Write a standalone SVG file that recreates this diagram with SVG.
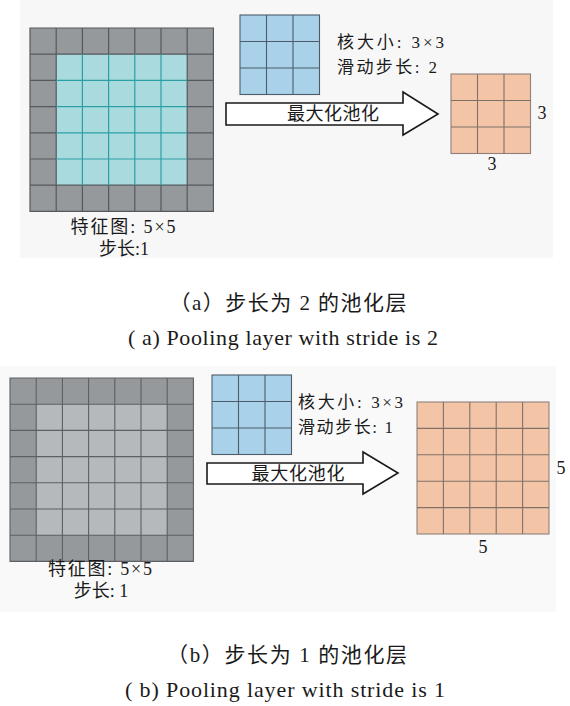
<svg xmlns="http://www.w3.org/2000/svg" width="570" height="706" viewBox="0 0 570 706">
  <style>
    .txt { fill: #1a1a1a; }
    .lbl { font-size: 18px; }
    .klbl { font-size: 17px; }
    .num { font-size: 18px; }
    .capZh { font-size: 21px; }
    .capEn { font-size: 22px; }
    .pad { fill: #96999c; }
    .gridDark { fill: none; stroke: #55595c; stroke-width: 1.2; }
    .gridTeal { fill: none; stroke: #2c9fa4; stroke-width: 1.2; }
    .gridLight { fill: none; stroke: #5c6063; stroke-width: 1.1; }
    .kernel { fill: #a9d1ea; stroke: #4d5d68; stroke-width: 1.1; }
    .kernelLines { fill: none; stroke: #4d5d68; stroke-width: 1.1; }
    .out { fill: #f4c4a7; stroke: #8e8179; stroke-width: 1.1; }
    .outLines { fill: none; stroke: #7d716a; stroke-width: 1.1; }
    .arrow { fill: #ffffff; stroke: #1a1a1a; stroke-width: 1.6; stroke-linejoin: miter; }
  </style>

  <g font-family="'Liberation Serif', 'DejaVu Serif', 'Noto Sans CJK SC', serif">
  <!-- panel backgrounds -->
  <rect x="20" y="0" width="533" height="258" fill="#f7f7f7"/>
  <rect x="0" y="366" width="556" height="246" fill="#f9f9f9"/>

  <!-- (a) stride 2 -->
  <g id="featureMapA">
    <rect class="pad" x="30" y="28" width="183.4" height="183.4"/>
    <rect x="56.2" y="54.2" width="131" height="131" fill="#a9dbde"/>
    <path class="gridDark" d="M30 28h183.4v183.4H30z M56.2 28v26.2 M82.4 28v26.2 M108.6 28v26.2 M134.8 28v26.2 M161 28v26.2 M187.2 28v26.2 M56.2 185.2v26.2 M82.4 185.2v26.2 M108.6 185.2v26.2 M134.8 185.2v26.2 M161 185.2v26.2 M187.2 185.2v26.2 M30 54.2h183.4 M30 185.2h183.4 M30 80.4h26.2 M30 106.6h26.2 M30 132.8h26.2 M30 159h26.2 M187.2 80.4h26.2 M187.2 106.6h26.2 M187.2 132.8h26.2 M187.2 159h26.2 M56.2 54.2v131 M187.2 54.2v131"/>
    <path class="gridTeal" d="M82.4 54.2v131 M108.6 54.2v131 M134.8 54.2v131 M161 54.2v131 M56.2 80.4h131 M56.2 106.6h131 M56.2 132.8h131 M56.2 159h131"/>
    <text class="txt lbl" x="123" y="233" text-anchor="middle" textLength="105" lengthAdjust="spacing">特征图: 5×5</text>
    <text class="txt lbl" x="124" y="255" text-anchor="middle">步长:1</text>
  </g>

  <g id="kernelA">
    <rect class="kernel" x="240" y="15" width="79.5" height="79.5"/>
    <path class="kernelLines" d="M266.5 15v79.5 M293 15v79.5 M240 41.5h79.5 M240 68h79.5"/>
    <text class="txt klbl" x="337" y="48" textLength="107" lengthAdjust="spacing">核大小: 3×3</text>
    <text class="txt klbl" x="337" y="73" textLength="100" lengthAdjust="spacing">滑动步长: 2</text>
  </g>

  <g id="outputA">
    <rect class="out" x="451" y="74" width="79.5" height="79.5"/>
    <path class="outLines" d="M477.5 74v79.5 M504 74v79.5 M451 100.5h79.5 M451 127h79.5"/>
    <text class="txt num" x="542" y="119" text-anchor="middle">3</text>
    <text class="txt num" x="492" y="170" text-anchor="middle">3</text>
  </g>

  <!-- (b) stride 1 -->
  <g id="featureMapB">
    <rect class="pad" x="10" y="378" width="183.4" height="183.4"/>
    <rect x="36.2" y="404.2" width="131" height="131" fill="#b5b9bc"/>
    <path class="gridLight" d="M10 378h183.4v183.4H10z M36.2 378v183.4 M62.4 378v183.4 M88.6 378v183.4 M114.8 378v183.4 M141 378v183.4 M167.2 378v183.4 M10 404.2h183.4 M10 430.4h183.4 M10 456.6h183.4 M10 482.8h183.4 M10 509h183.4 M10 535.2h183.4"/>
    <text class="txt lbl" x="100" y="575" text-anchor="middle" textLength="104" lengthAdjust="spacing">特征图: 5×5</text>
    <text class="txt lbl" x="101" y="597" text-anchor="middle">步长: 1</text>
  </g>

  <g id="kernelB">
    <rect class="kernel" x="212" y="375" width="79.5" height="79.5"/>
    <path class="kernelLines" d="M238.5 375v79.5 M265 375v79.5 M212 401.5h79.5 M212 428h79.5"/>
    <text class="txt klbl" x="298" y="408" textLength="105" lengthAdjust="spacing">核大小: 3×3</text>
    <text class="txt klbl" x="298" y="433" textLength="95" lengthAdjust="spacing">滑动步长: 1</text>
  </g>

  <g id="outputB">
    <rect class="out" x="417" y="402" width="132" height="132"/>
    <path class="outLines" d="M443.4 402v132 M469.8 402v132 M496.2 402v132 M522.6 402v132 M417 428.4h132 M417 454.8h132 M417 481.2h132 M417 507.6h132"/>
    <text class="txt num" x="561" y="474" text-anchor="middle">5</text>
    <text class="txt num" x="483" y="553" text-anchor="middle">5</text>
  </g>

  <!-- pooling arrows -->
  <g id="connectors">
    <g id="arrowA">
      <polygon class="arrow" points="226,103 403,103 403,92 438,114 403,135 403,125 226,125"/>
      <text class="txt" x="333" y="120" font-size="18" text-anchor="middle" textLength="92" lengthAdjust="spacing">最大化池化</text>
    </g>
    <g id="arrowB">
      <polygon class="arrow" points="207,463 363,463 363,452 398,473 363,494 363,484 207,484"/>
      <text class="txt" x="298" y="480" font-size="18" text-anchor="middle" textLength="93" lengthAdjust="spacing">最大化池化</text>
    </g>
  </g>

  <!-- captions -->
  <g id="captionA">
    <text class="txt capZh" x="288" y="310" text-anchor="middle" textLength="237" lengthAdjust="spacing">（a）步长为 2 的池化层</text>
    <text class="txt capEn" x="283" y="345" text-anchor="middle" textLength="310" lengthAdjust="spacing">( a) Pooling layer with stride is 2</text>
  </g>
  <g id="captionB">
    <text class="txt capZh" x="287" y="662" text-anchor="middle" textLength="240" lengthAdjust="spacing">（b）步长为 1 的池化层</text>
    <text class="txt capEn" x="285" y="697" text-anchor="middle" textLength="320" lengthAdjust="spacing">( b) Pooling layer with stride is 1</text>
  </g>
  </g>
</svg>
